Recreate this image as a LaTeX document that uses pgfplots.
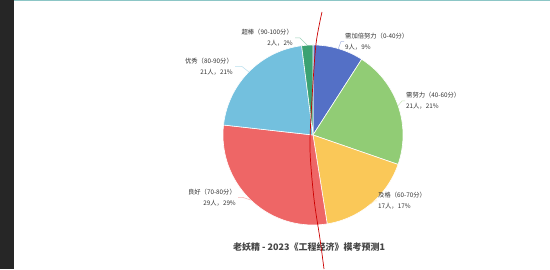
\documentclass[border=0pt]{standalone}
\usepackage{pgfplots}
\pgfplotsset{compat=1.18}
\usepackage{fontspec}
\setmainfont{Noto Sans CJK SC}
\definecolor{cA}{HTML}{5470C6}
\definecolor{cB}{HTML}{91CC75}
\definecolor{cC}{HTML}{FAC858}
\definecolor{cD}{HTML}{EE6666}
\definecolor{cE}{HTML}{73C0DE}
\definecolor{cF}{HTML}{3BA272}
\definecolor{lbl}{HTML}{333333}
\definecolor{ttl}{HTML}{464646}
% counts (total 99)
\def\nA{9}\def\nB{21}\def\nC{17}\def\nD{29}\def\nE{21}\def\nF{2}
\pgfmathsetmacro\tot{\nA+\nB+\nC+\nD+\nE+\nF}
\pgfmathsetmacro\tA{90}
\pgfmathsetmacro\tB{\tA-360*\nA/\tot}
\pgfmathsetmacro\tC{\tB-360*\nB/\tot}
\pgfmathsetmacro\tD{\tC-360*\nC/\tot}
\pgfmathsetmacro\tE{\tD-360*\nD/\tot}
\pgfmathsetmacro\tF{\tE-360*\nE/\tot}
\pgfmathsetmacro\tG{\tF-360*\nF/\tot}
\def\cx{313}\def\cy{134}\def\R{90}
\begin{document}
\begin{tikzpicture}
\begin{axis}[width=550pt,height=269pt,scale only axis,
  xmin=0,xmax=550,ymin=0,ymax=269,hide axis,clip=false]
\fill[white] (axis cs:0,0) rectangle (axis cs:550,269);
% slices
\addplot[fill=cA,draw=white,line width=0.6pt,domain=\tB:\tA,samples=40] ({\cx+\R*cos(x)},{\cy+\R*sin(x)}) -- (axis cs:\cx,\cy) -- cycle;
\addplot[fill=cB,draw=white,line width=0.6pt,domain=\tC:\tB,samples=60] ({\cx+\R*cos(x)},{\cy+\R*sin(x)}) -- (axis cs:\cx,\cy) -- cycle;
\addplot[fill=cC,draw=white,line width=0.6pt,domain=\tD:\tC,samples=60] ({\cx+\R*cos(x)},{\cy+\R*sin(x)}) -- (axis cs:\cx,\cy) -- cycle;
\addplot[fill=cD,draw=white,line width=0.6pt,domain=\tE:\tD,samples=80] ({\cx+\R*cos(x)},{\cy+\R*sin(x)}) -- (axis cs:\cx,\cy) -- cycle;
\addplot[fill=cE,draw=white,line width=0.6pt,domain=\tF:\tE,samples=60] ({\cx+\R*cos(x)},{\cy+\R*sin(x)}) -- (axis cs:\cx,\cy) -- cycle;
\addplot[fill=cF,draw=white,line width=0.6pt,domain=\tG:\tF,samples=10] ({\cx+\R*cos(x)},{\cy+\R*sin(x)}) -- (axis cs:\cx,\cy) -- cycle;
% leader lines
\draw[cA!50,line width=0.5pt] (axis cs:338.3,220.3) -- (axis cs:341,227.5) -- (axis cs:344,227.5);
\draw[cB!50,line width=0.5pt] (axis cs:398.1,163.4) -- (axis cs:402,168) -- (axis cs:405,168);
\draw[cC!50,line width=0.5pt] (axis cs:370.9,65.1) -- (axis cs:374,68) -- (axis cs:377,68);
\draw[cD!50,line width=0.5pt] (axis cs:250.9,68.9) -- (axis cs:243,71.5) -- (axis cs:238,71.5);
\draw[cE!50,line width=0.5pt] (axis cs:248.8,197.1) -- (axis cs:242,202.5) -- (axis cs:235,202.5);
\draw[cF!50,line width=0.5pt] (axis cs:307.3,223.8) -- (axis cs:300,231) -- (axis cs:295,231);
% labels
\tikzset{lb/.style={font=\fontsize{6.3}{11}\selectfont,text=lbl,inner sep=0pt}}
\node[lb,anchor=west,align=left] at (axis cs:345,227.5) {需加倍努力（0-40分）\\9人，9\%};
\node[lb,anchor=west,align=left] at (axis cs:406,168) {需努力（40-60分）\\21人，21\%};
\node[lb,anchor=west,align=left] at (axis cs:378,68) {及格（60-70分）\\17人，17\%};
\node[lb,anchor=east,align=right] at (axis cs:236,71.5) {良好（70-80分）\\29人，29\%};
\node[lb,anchor=east,align=right] at (axis cs:233,202.5) {优秀（80-90分）\\21人，21\%};
\node[lb,anchor=east,align=right] at (axis cs:293,231) {超棒（90-100分）\\2人，2\%};
% title
\node[font=\fontsize{9}{11}\selectfont\bfseries,text=ttl] at (axis cs:309,22) {老妖精 - 2023《工程经济》模考预测1};
% screenshot frame and hand-drawn stroke
\fill[black!85] (axis cs:0,0) rectangle (axis cs:14,269);
\fill[teal!45] (axis cs:14,267.5) rectangle (axis cs:550,269);
\draw[red!80!black,line width=0.7pt] plot[smooth] coordinates {(axis cs:322,257) (axis cs:316,225) (axis cs:312,170) (axis cs:310,120) (axis cs:314,70) (axis cs:320,30) (axis cs:324,0)};
\end{axis}
\end{tikzpicture}
\end{document}
